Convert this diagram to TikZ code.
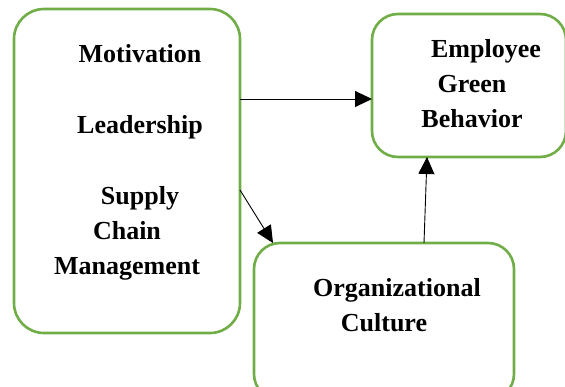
\documentclass[tikz,border=0pt]{standalone}
\usepackage{fontspec}
\setmainfont{Liberation Serif}
\usetikzlibrary{arrows.meta}
\usepackage{xcolor}
\definecolor{mygreen}{HTML}{70AD47}

\begin{document}
\begin{tikzpicture}[x=1pt,y=-1pt,
  box/.style={draw=mygreen,line width=2.6pt,inner sep=0pt,outer sep=0pt},
  word/.style={anchor=base,inner sep=0pt,font=\fontsize{26}{30}\selectfont\bfseries},
  link/.style={-{Triangle[length=17pt,width=16pt]},line width=0.9pt}]

      \clip (0,0) rectangle (565,386);

      % BOXES
      \node [box, rounded corners=30pt, minimum width=226pt, minimum height=324pt, name=b1] at (127,171) {};
      \node [box, rounded corners=26pt, minimum width=194pt, minimum height=143pt, name=b2] at (469,85.5) {};
      \node [box, rounded corners=26pt, minimum width=260pt, minimum height=157pt, name=b3] at (384,321.5) {};

      % TEXT
      \node [word, name=t1] at (140,62) {Motivation};
      \node [word, name=t2] at (140,133) {Leadership};
      \node [word, name=t3] at (140,204) {Supply};
      \node [word, name=t4] at (127,239) {Chain};
      \node [word, name=t5] at (127,274) {Management};

      \node [word, name=t6] at (486,57) {Employee};
      \node [word, name=t7] at (472,92) {Green};
      \node [word, name=t8] at (472,127) {Behavior};

      \node [word, name=t9] at (397,296) {Organizational};
      \node [word, name=t10] at (384,331) {Culture};

      % links
      \draw [link] ([yshift=-90pt]b1.north east) -- ([yshift=-13.5pt]b2.west);
      \draw [link] ([yshift=-181pt]b1.north east) -- ([xshift=19pt]b3.north west);
      \draw [link] ([xshift=40pt]b3.north) -- ([xshift=-42pt]b2.south);

\end{tikzpicture}
\end{document}
